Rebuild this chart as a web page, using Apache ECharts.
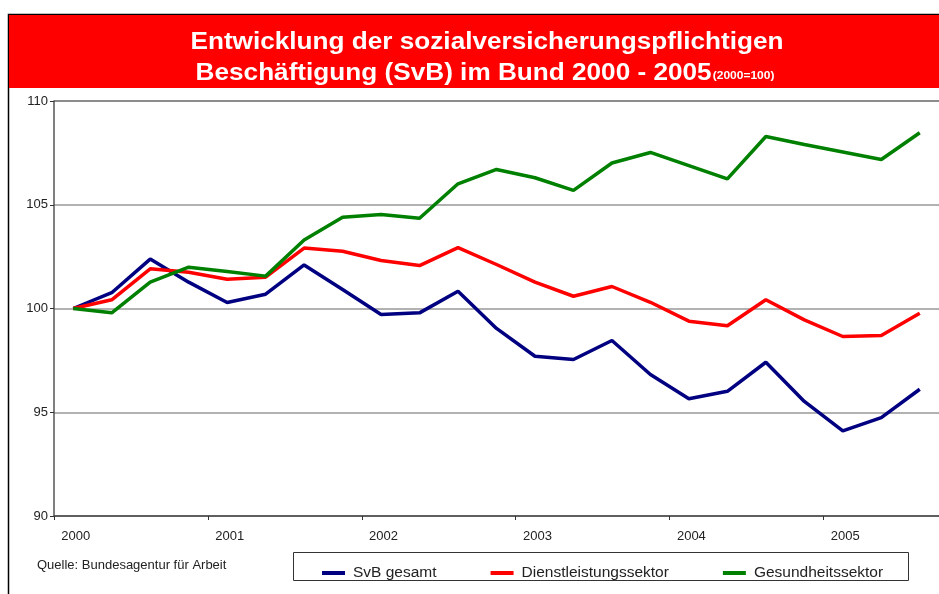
<!DOCTYPE html>
<html>
<head>
<meta charset="utf-8">
<script src="https://cdn.jsdelivr.net/npm/echarts@6/dist/echarts.min.js"></script>
<style>
  html, body { margin: 0; padding: 0; background: #fff; }
  #chart { width: 939px; height: 594px; }
</style>
</head>
<body>
<div id="chart"></div>
<script>
// Quartale 2000 Q1 .. 2005 Q3
const quarters = [
  '2000 Q1', '2000 Q2', '2000 Q3', '2000 Q4',
  '2001 Q1', '2001 Q2', '2001 Q3', '2001 Q4',
  '2002 Q1', '2002 Q2', '2002 Q3', '2002 Q4',
  '2003 Q1', '2003 Q2', '2003 Q3', '2003 Q4',
  '2004 Q1', '2004 Q2', '2004 Q3', '2004 Q4',
  '2005 Q1', '2005 Q2', '2005 Q3'
]
const years = ['2000', '2001', '2002', '2003', '2004', '2005']
const yTicks = [90, 95, 100, 105, 110]

const svbGesamt = [100, 100.76, 102.38, 101.27, 100.29, 100.69, 102.1, 100.92, 99.71, 99.79, 100.83, 99.04,
  97.7, 97.54, 98.46, 96.82, 95.65, 96.01, 97.41, 95.52, 94.1, 94.74, 96.11]
const dienstleistung = [100, 100.42, 101.91, 101.75, 101.41, 101.51, 102.91, 102.76, 102.31, 102.07, 102.93, 102.12,
  101.27, 100.59, 101.06, 100.3, 99.39, 99.17, 100.42, 99.45, 98.65, 98.7, 99.77]
const gesundheit = [100, 99.79, 101.27, 101.99, 101.78, 101.56, 103.3, 104.4, 104.53, 104.35, 106.01, 106.7,
  106.3, 105.69, 107.01, 107.52, 106.89, 106.25, 108.29, 107.9, 107.54, 107.18, 108.47]

const seriesNames = ['SvB gesamt', 'Dienstleistungssektor', 'Gesundheitssektor']
const seriesData = [svbGesamt, dienstleistung, gesundheit]
const colorList = ['#000080', '#ff0000', '#008000']

const font = '"Liberation Sans", Arial, sans-serif'
const chart = echarts.init(document.getElementById('chart'))

const option = {
  backgroundColor: '#fff',
  animation: false,
  graphic: [
    // Rahmen
    { type: 'rect', z: 0, shape: { x: 8.5, y: 14.5, width: 1000, height: 1000 },
      style: { fill: 'none', stroke: '#000', lineWidth: 1.5 } },
    // roter Titelbalken
    { type: 'rect', z: 1, shape: { x: 9, y: 15, width: 930, height: 73 },
      style: { fill: '#ff0000' } },
    { type: 'text', z: 2, x: 487, y: 42, scaleX: 1.09,
      style: { text: 'Entwicklung der sozialversicherungspflichtigen', fill: '#fff',
        font: 'bold 24px ' + font, align: 'center', verticalAlign: 'middle' } },
    { type: 'text', z: 2, x: 485, y: 73.5, scaleX: 1.09,
      style: { text: '{b|Beschäftigung (SvB) im Bund 2000 - 2005}{s|(2000=100)}', fill: '#fff',
        align: 'center', verticalAlign: 'middle',
        rich: {
          b: { fontSize: 24, fontWeight: 'bold', fontFamily: font, color: '#fff' },
          s: { fontSize: 11, fontWeight: 'bold', fontFamily: font, color: '#fff', padding: [4, 0, 0, 1] }
        } } },
    { type: 'text', x: 37, y: 565,
      style: { text: 'Quelle: Bundesagentur für Arbeit', fill: '#222', font: '13px ' + font, verticalAlign: 'middle' } },
    // Legendenrahmen
    { type: 'rect', shape: { x: 293.5, y: 552.5, width: 615, height: 28 },
      style: { fill: '#fff', stroke: '#333', lineWidth: 1 } }
  ],
  legend: {
    data: seriesNames,
    left: 317,
    top: 560,
    icon: 'rect',
    itemWidth: 23,
    itemHeight: 4,
    itemGap: 54,
    z: 10,
    textStyle: { color: '#222', fontSize: 15.5, fontFamily: font, padding: [0, 0, 0, 3] }
  },
  grid: {
    left: 54,
    right: 0,
    top: 101,
    bottom: 78,
    containLabel: false
  },
  xAxis: {
    type: 'category',
    data: quarters,
    boundaryGap: true,
    axisLine: { lineStyle: { color: '#555', width: 1.5 } },
    axisTick: {
      show: true,
      length: 4,
      interval: (index) => index % 4 === 0,
      lineStyle: { color: '#333' }
    },
    axisLabel: {
      interval: (index) => index % 4 === 0,
      formatter: (value, index) => years[index / 4] || '',
      color: '#222',
      fontSize: 13,
      fontFamily: font,
      margin: 14,
      padding: [0, 0, 0, 5]
    },
    splitLine: { show: false }
  },
  yAxis: {
    type: 'value',
    min: yTicks[0],
    max: yTicks[yTicks.length - 1],
    interval: 5,
    axisLine: { show: true, lineStyle: { color: '#555', width: 1.5 } },
    axisTick: { show: true, length: 4, lineStyle: { color: '#333' } },
    axisLabel: { color: '#222', fontSize: 13, fontFamily: font, margin: 6 },
    splitLine: {
      show: true,
      lineStyle: { color: ['#555', '#999', '#999', '#999', '#666'], width: 1.5 }
    }
  },
  series: seriesNames.map((name, index) => ({
    name,
    type: 'line',
    data: seriesData[index],
    showSymbol: false,
    symbol: 'none',
    color: colorList[index],
    lineStyle: { width: 3.5, color: colorList[index] },
    z: 3 + index
  }))
}

chart.setOption(option)
</script>
</body>
</html>
